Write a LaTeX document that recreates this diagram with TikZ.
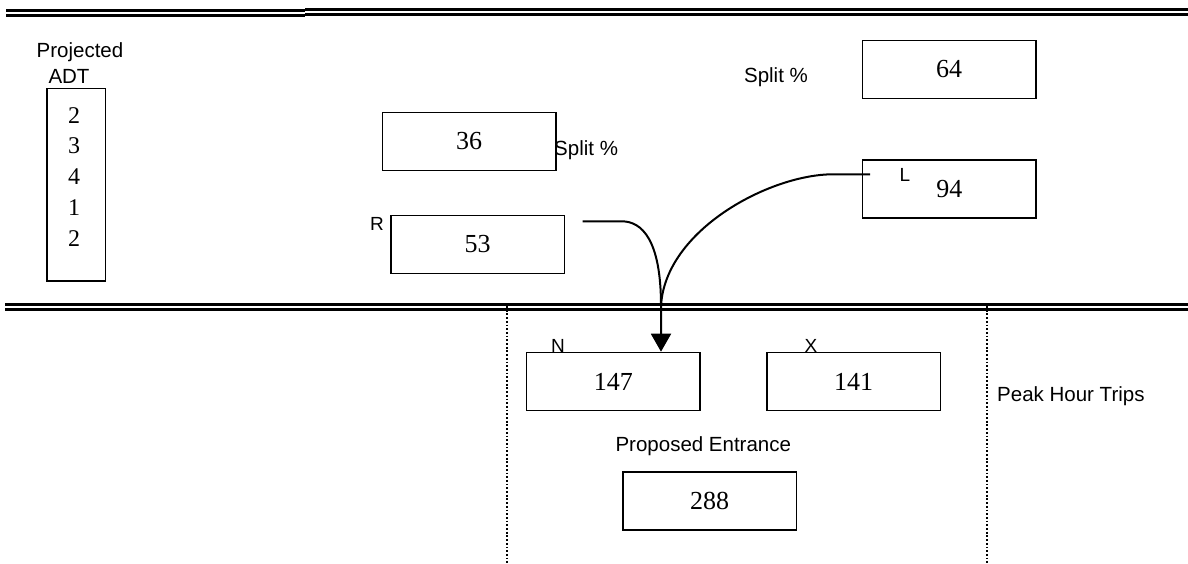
\documentclass[tikz,border=0pt]{standalone}
\usepackage{fontspec}
\setmainfont{Liberation Serif}
\setsansfont{Liberation Sans}
\usetikzlibrary{arrows.meta}

\begin{document}
\begin{tikzpicture}[x=1pt,y=-1pt,
  valbox/.style={draw, line width=1.6pt, minimum width=173.5pt, minimum height=58pt,
    inner sep=0pt, font=\fontsize{26}{30}\selectfont},
  lbl/.style={font=\sffamily\fontsize{20.5}{24}\selectfont, inner sep=0pt},
  tag/.style={font=\sffamily\fontsize{19}{22}\selectfont, inner sep=0pt},
  road/.style={line width=3pt},
  lane/.style={line width=1.8pt, dash pattern=on 1.8pt off 1.9pt},
  flow/.style={line width=2pt},
]
\useasboundingbox (0,0) rectangle (1188,563);

% road edges
\draw[road] (6,10) -- (305,10);
\draw[road] (6,15.2) -- (305,15.2);
\draw[road] (305,9.5) -- (1188,9.5);
\draw[line width=2.6pt] (305,14.4) -- (1188,14.4);
\draw[road] (5,304.6) -- (1188,304.6);
\draw[road] (5,309.4) -- (1188,309.4);

% entrance limits
\draw[lane] (506.7,306) -- (506.7,563);
\draw[lane] (986.7,306) -- (986.7,563);

% projected ADT
\node[lbl] (projlbl) at (80,52) {Projected};
\node[lbl] (adtlbl) at (69,76) {ADT};
\node[draw, line width=1.6pt, minimum width=58.6pt, minimum height=192.7pt, inner sep=0pt]
  (adtbox) at (76,184.7) {};
\node[align=center, inner sep=0pt, font=\fontsize{24}{30.75}\selectfont]
  (adtvals) at (74,176.7) {2\\3\\4\\1\\2};

% split and volume boxes
\node[valbox] (b36) at (469.2,141.3) {36};
\node[lbl, anchor=west] (split1) at (554,150) {Split \%};
\node[valbox] (b53) at (477.7,244.5) {53};
\node[tag] (rlbl) at (377,224) {R};

\node[lbl] (split2) at (776,76.7) {Split \%};
\node[valbox] (b64) at (949.2,69.5) {64};
\node[valbox] (b94) at (949.3,189.2) {94};
\node[tag] (llbl) at (905,175) {L};

% entrance boxes
\node[valbox] (b147) at (613.3,381.5) {147};
\node[valbox] (b141) at (853.7,381.5) {141};
\node[tag] (nlbl) at (558,346.3) {N};
\node[tag] (xlbl) at (811,346.3) {X};
\node[lbl] (proplbl) at (703.3,446) {Proposed Entrance};
\node[valbox] (b288) at (709.7,501.2) {288};
\node[lbl, anchor=west] (peaklbl) at (997,396) {Peak Hour Trips};

% turning movements
\coordinate (rstart) at (582.7,221.3);
\coordinate (lstart) at (870,174.3);
\coordinate (merge) at (661,306);
\draw[flow] (lstart) -- (833,174.3) .. controls (770,174.3) and (665,230) .. (merge);
\draw[flow, -{Triangle[width=20pt,length=18pt]}]
  (rstart) -- (621.7,221.3) .. controls (642,221.3) and (661,240) .. (merge)
  -- (merge |- b147.north);
\end{tikzpicture}
\end{document}
